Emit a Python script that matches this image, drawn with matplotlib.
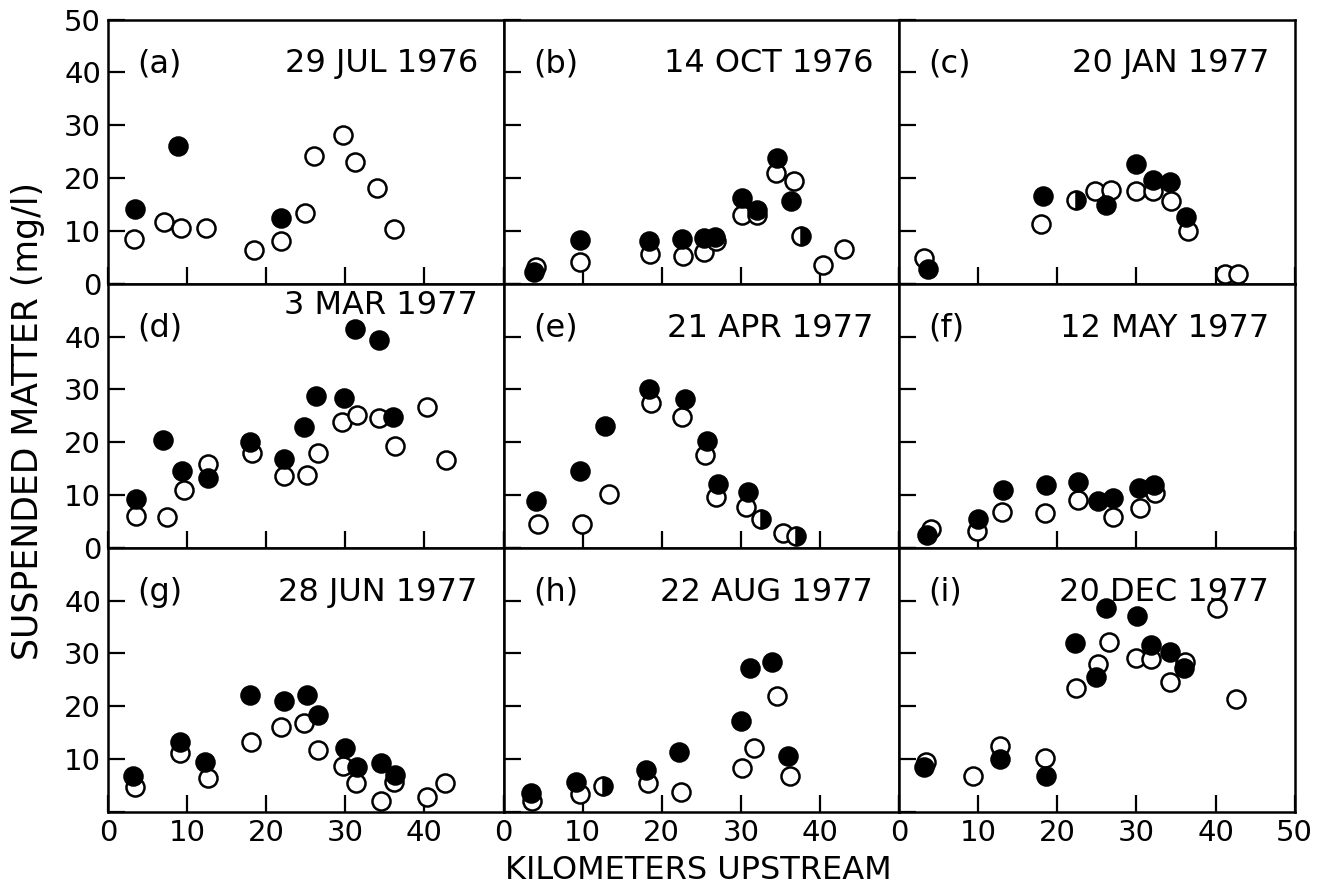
import matplotlib
matplotlib.use("Agg")
import matplotlib.pyplot as plt

plt.rcParams['font.family'] = ['DejaVu Sans']

# ---------------- data (km upstream, mg/l) ----------------
panel_letters = ["(a)", "(b)", "(c)", "(d)", "(e)", "(f)", "(g)", "(h)", "(i)"]
panel_dates = ["29 JUL 1976", "14 OCT 1976", "20 JAN 1977",
               "3 MAR 1977", "21 APR 1977", "12 MAY 1977",
               "28 JUN 1977", "22 AUG 1977", "20 DEC 1977"]

# (a)
a_open_x = [3.3, 7.1, 9.2, 12.4, 18.4, 21.9, 24.9, 26.0, 29.7, 31.2, 34.0, 36.2]
a_open_y = [8.4, 11.6, 10.5, 10.6, 6.4, 8.1, 13.3, 24.1, 28.1, 23.1, 18.1, 10.4]
a_fill_x = [3.4, 8.9, 21.9]
a_fill_y = [14.2, 26.1, 12.5]
a_half_x, a_half_y = [], []

# (b)
b_open_x = [4.1, 9.7, 18.5, 22.7, 25.4, 26.8, 30.2, 32.1, 34.4, 36.7, 40.4, 43.0]
b_open_y = [3.2, 4.1, 5.6, 5.2, 6.0, 8.0, 13.0, 13.0, 21.0, 19.4, 3.5, 6.6]
b_fill_x = [3.8, 9.7, 18.4, 22.6, 25.4, 26.7, 30.2, 32.1, 34.6, 36.3]
b_fill_y = [2.2, 8.3, 8.0, 8.4, 8.6, 8.8, 16.3, 13.9, 23.8, 15.6]
b_half_x = [37.6]
b_half_y = [9.1]

# (c)
c_open_x = [3.2, 17.9, 24.8, 26.8, 30.0, 32.1, 34.4, 36.5, 41.2, 42.9]
c_open_y = [4.9, 11.3, 17.5, 17.8, 17.6, 17.5, 15.6, 10.0, 1.9, 1.9]
c_fill_x = [3.7, 18.2, 26.1, 30.0, 32.1, 34.3, 36.3]
c_fill_y = [2.8, 16.6, 14.9, 22.6, 19.7, 19.3, 12.6]
c_half_x = [22.4]
c_half_y = [15.9]

# (d)
d_open_x = [3.6, 7.5, 9.6, 12.6, 18.2, 22.3, 25.2, 26.5, 29.6, 31.5, 34.3, 36.3, 40.3, 42.7]
d_open_y = [6.0, 5.8, 10.9, 15.8, 18.0, 13.6, 13.7, 18.0, 23.8, 25.2, 24.5, 19.3, 26.6, 16.6]
d_fill_x = [3.6, 7.0, 9.4, 12.6, 18.0, 22.3, 24.8, 26.3, 29.8, 31.2, 34.3, 36.0]
d_fill_y = [9.2, 20.4, 14.6, 13.2, 20.1, 16.8, 22.9, 28.8, 28.4, 41.5, 39.4, 24.8]
d_half_x, d_half_y = [], []

# (e)
e_open_x = [4.3, 9.9, 13.3, 18.7, 22.6, 25.5, 26.8, 30.7, 35.3]
e_open_y = [4.4, 4.4, 10.1, 27.4, 24.8, 17.6, 9.6, 7.7, 2.8]
e_fill_x = [4.1, 9.7, 12.8, 18.4, 22.9, 25.7, 27.1, 30.9]
e_fill_y = [8.8, 14.5, 23.1, 30.1, 28.2, 20.3, 12.1, 10.6]
e_half_x = [32.6, 37.0]
e_half_y = [5.5, 2.2]

# (f)
f_open_x = [4.0, 9.8, 13.0, 18.5, 22.6, 27.0, 30.4, 32.3]
f_open_y = [3.6, 3.1, 6.8, 6.6, 9.1, 5.9, 7.5, 10.3]
f_fill_x = [3.5, 10.0, 13.1, 18.6, 22.6, 25.2, 27.0, 30.3, 32.2]
f_fill_y = [2.4, 5.5, 10.9, 11.8, 12.5, 8.8, 9.4, 11.3, 11.9]
f_half_x, f_half_y = [], []

# (g)
g_open_x = [3.4, 9.1, 12.6, 18.1, 21.9, 24.8, 26.5, 29.7, 31.3, 34.5, 36.2, 40.3, 42.6]
g_open_y = [4.7, 11.1, 6.3, 13.3, 16.1, 16.8, 11.6, 8.7, 5.5, 2.1, 5.7, 2.8, 5.5]
g_fill_x = [3.1, 9.1, 12.3, 17.9, 22.3, 25.1, 26.5, 29.9, 31.5, 34.5, 36.3]
g_fill_y = [6.8, 13.3, 9.5, 22.2, 21.0, 22.2, 18.4, 12.0, 8.4, 9.2, 7.0]
g_half_x, g_half_y = [], []

# (h)
h_open_x = [3.6, 9.7, 18.3, 22.4, 30.1, 31.7, 34.6, 36.2]
h_open_y = [2.1, 3.4, 5.5, 3.8, 8.3, 12.1, 22.0, 6.8]
h_fill_x = [3.5, 9.2, 18.0, 22.2, 30.0, 31.1, 33.9, 36.0]
h_fill_y = [3.5, 5.6, 7.9, 11.3, 17.2, 27.2, 28.4, 10.5]
h_half_x = [12.6]
h_half_y = [4.8]

# (i)
i_open_x = [3.4, 9.3, 12.8, 18.4, 22.4, 25.1, 26.5, 29.9, 31.8, 34.3, 36.2, 40.2, 42.6]
i_open_y = [9.5, 6.8, 12.4, 10.1, 23.4, 28.0, 32.1, 29.2, 29.0, 24.5, 28.3, 38.5, 21.4]
i_fill_x = [3.2, 12.8, 18.6, 22.3, 24.9, 26.2, 30.1, 31.9, 34.3, 36.0]
i_fill_y = [8.4, 9.9, 6.8, 31.9, 25.5, 38.5, 37.1, 31.6, 30.2, 27.2]
i_half_x, i_half_y = [], []

open_x = [a_open_x, b_open_x, c_open_x, d_open_x, e_open_x, f_open_x, g_open_x, h_open_x, i_open_x]
open_y = [a_open_y, b_open_y, c_open_y, d_open_y, e_open_y, f_open_y, g_open_y, h_open_y, i_open_y]
fill_x = [a_fill_x, b_fill_x, c_fill_x, d_fill_x, e_fill_x, f_fill_x, g_fill_x, h_fill_x, i_fill_x]
fill_y = [a_fill_y, b_fill_y, c_fill_y, d_fill_y, e_fill_y, f_fill_y, g_fill_y, h_fill_y, i_fill_y]
half_x = [a_half_x, b_half_x, c_half_x, d_half_x, e_half_x, f_half_x, g_half_x, h_half_x, i_half_x]
half_y = [a_half_y, b_half_y, c_half_y, d_half_y, e_half_y, f_half_y, g_half_y, h_half_y, i_half_y]

tick_vals = [0, 10, 20, 30, 40, 50]

# ---------------- figure ----------------
fig, axes = plt.subplots(3, 3, figsize=(13.17, 8.94), dpi=100)
fig.subplots_adjust(left=0.082, right=0.983, top=0.978, bottom=0.092,
                    wspace=0, hspace=0)

ms = 13
mew = 1.8
for k, ax in enumerate(axes.flat):
    row, col = divmod(k, 3)
    ax.plot(open_x[k], open_y[k], 'o', ms=ms, mfc='white', mec='black',
            mew=mew, ls='none', zorder=3)
    ax.plot(fill_x[k], fill_y[k], 'o', ms=ms, mfc='black', mec='black',
            mew=mew, ls='none', zorder=4)
    if half_x[k]:
        ax.plot(half_x[k], half_y[k], 'o', ms=ms, mfc='black', mec='black',
                mfcalt='white', fillstyle='right', mew=mew, ls='none', zorder=4)
    ax.set_xlim(0, 50)
    ax.set_ylim(0, 50)
    ax.set_xticks(tick_vals)
    ax.set_yticks(tick_vals)
    ax.tick_params(direction='in', length=12, width=1.6, labelsize=21,
                   top=False, right=False, pad=5, colors='black')
    for s in ax.spines.values():
        s.set_linewidth(1.8)

    # y tick labels
    if col == 0:
        if row == 0:
            ylabs = ['0', '10', '20', '30', '40', '50']
        elif row == 1:
            ylabs = ['0', '10', '20', '30', '40', '']
        else:
            ylabs = ['', '10', '20', '30', '40', '']
        ax.set_yticklabels(ylabs)
    else:
        ax.tick_params(labelleft=False)
    # x tick labels
    if row == 2:
        if col == 2:
            xlabs = ['0', '10', '20', '30', '40', '50']
        else:
            xlabs = ['0', '10', '20', '30', '40', '']
        ax.set_xticklabels(xlabs)
    else:
        ax.tick_params(labelbottom=False)

    ax.text(0.075, 0.80, panel_letters[k], transform=ax.transAxes,
            fontsize=23, ha='left', va='baseline')
    date_y = 0.886 if k == 3 else 0.80
    ax.text(0.935, date_y, panel_dates[k], transform=ax.transAxes,
            fontsize=23, ha='right', va='baseline')

fig.text(0.021, 0.529, "SUSPENDED MATTER (mg/l)", rotation=90,
         ha='center', va='center', fontsize=25)
fig.text(0.530, 0.026, "KILOMETERS UPSTREAM", ha='center', va='center',
         fontsize=23)

fig.savefig("out.png", dpi=100, facecolor='white')
